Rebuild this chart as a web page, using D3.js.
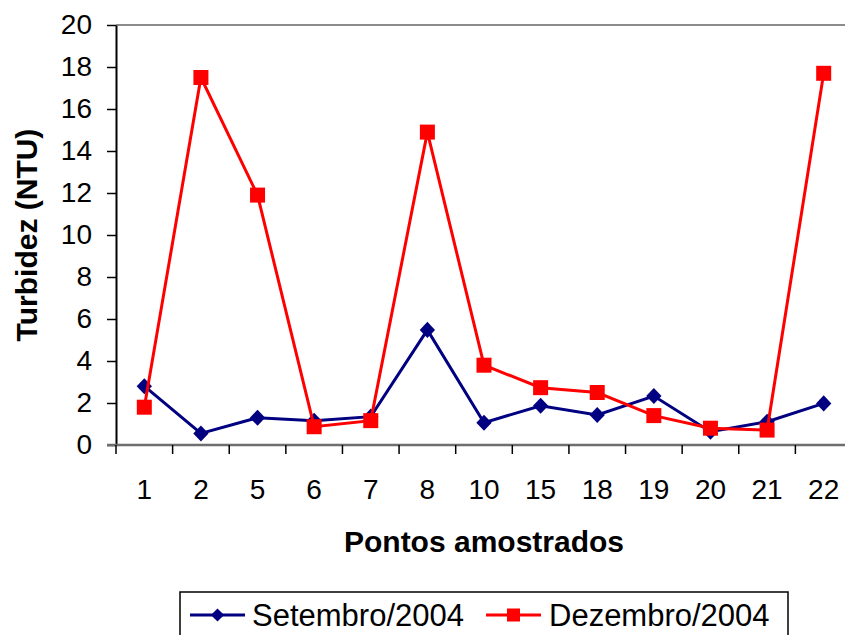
<!DOCTYPE html>
<html>
<head>
<meta charset="utf-8">
<script src="https://cdn.jsdelivr.net/npm/d3@7"></script>
<style>
  body { margin: 0; background: #fff; }
  svg { display: block; font-family: "Liberation Sans", Arial, sans-serif; }
</style>
</head>
<body>
<div id="chart"></div>
<script>
// sampling points (x categories)
var pontos = ["1", "2", "5", "6", "7", "8", "10", "15", "18", "19", "20", "21", "22"];
// turbidity values
var setembro = [2.8, 0.55, 1.3, 1.15, 1.35, 5.48, 1.06, 1.87, 1.43, 2.33, 0.63, 1.11, 1.98];
var dezembro = [1.8, 17.5, 11.9, 0.87, 1.16, 14.9, 3.8, 2.73, 2.5, 1.4, 0.8, 0.71, 17.7];
var yTicks = [0, 2, 4, 6, 8, 10, 12, 14, 16, 18, 20];
var seriesNames = ["Setembro/2004", "Dezembro/2004"];

var width = 845, height = 635;
// plot area runs a bit past the right edge, like the original
var margin = {top: 25, left: 116, right: -7, bottom: 190};

var svg = d3.select("#chart")
  .append("svg")
    .attr("width", width)
    .attr("height", height);

var x = d3.scaleBand()
  .domain(pontos)
  .range([margin.left, width - margin.right])
  .padding(0);

var y = d3.scaleLinear()
  .domain([0, 20])
  .range([height - margin.bottom, margin.top]);

// top border (grey)
svg.append("line")
  .attr("x1", margin.left).attr("x2", width)
  .attr("y1", y(20)).attr("y2", y(20))
  .attr("stroke", "#8c8c8c")
  .attr("stroke-width", 2);

// Y axis
var yAxis = svg.append("g")
  .attr("transform", "translate(" + margin.left + ",0)")
  .call(d3.axisLeft(y).tickValues(yTicks).tickSize(9).tickPadding(15).tickSizeOuter(0));
yAxis.select(".domain").attr("stroke", "#000").attr("stroke-width", 2);
yAxis.selectAll(".tick line").attr("stroke", "#000").attr("stroke-width", 1.5);
yAxis.selectAll("text")
  .attr("font-size", 28)
  .attr("fill", "#000")
  .attr("font-family", "Liberation Sans, Arial, sans-serif");

// X axis: ticks on band edges, labels in band centres
var xAxis = svg.append("g")
  .attr("transform", "translate(0," + y(0) + ")");
xAxis.append("line")
  .attr("x1", margin.left - 9).attr("x2", width)
  .attr("y1", 0).attr("y2", 0)
  .attr("stroke", "#6e6e6e")
  .attr("stroke-width", 2.5);
xAxis.selectAll(".xtick")
  .data(pontos)
  .enter()
  .append("line")
    .attr("class", "xtick")
    .attr("x1", function(d) { return x(d); })
    .attr("x2", function(d) { return x(d); })
    .attr("y1", 0).attr("y2", 9)
    .attr("stroke", "#000")
    .attr("stroke-width", 1.5);
xAxis.selectAll(".xlabel")
  .data(pontos)
  .enter()
  .append("text")
    .attr("class", "xlabel")
    .attr("x", function(d) { return x(d) + x.bandwidth() / 2; })
    .attr("y", 54)
    .attr("text-anchor", "middle")
    .attr("font-size", 28)
    .text(function(d) { return d; });

// axis titles
svg.append("text")
  .attr("x", (margin.left + width - margin.right) / 2)
  .attr("y", 552)
  .attr("text-anchor", "middle")
  .attr("font-size", 30)
  .attr("font-weight", "bold")
  .text("Pontos amostrados");

svg.append("text")
  .attr("transform", "translate(37," + ((y(0) + y(20)) / 2 + 0) + ") rotate(-90)")
  .attr("text-anchor", "middle")
  .attr("font-size", 30)
  .attr("font-weight", "bold")
  .text("Turbidez (NTU)");

var cx = function(d, i) { return x(pontos[i]) + x.bandwidth() / 2; };
var line = d3.line()
  .x(function(d, i) { return cx(d, i); })
  .y(function(d) { return y(d); });

var diamond = d3.symbol().type(d3.symbolDiamond2).size(150);

// Setembro series (navy, diamonds)
svg.append("path")
  .datum(setembro)
  .attr("fill", "none")
  .attr("stroke", "#000080")
  .attr("stroke-width", 3)
  .attr("d", line);
svg.selectAll(".setembro")
  .data(setembro)
  .enter()
  .append("path")
    .attr("class", "setembro")
    .attr("transform", function(d, i) { return "translate(" + cx(d, i) + "," + y(d) + ") scale(1,1.05)"; })
    .attr("d", diamond)
    .attr("fill", "#000080");

// Dezembro series (red, squares)
svg.append("path")
  .datum(dezembro)
  .attr("fill", "none")
  .attr("stroke", "#ff0000")
  .attr("stroke-width", 3)
  .attr("d", line);
svg.selectAll(".dezembro")
  .data(dezembro)
  .enter()
  .append("rect")
    .attr("class", "dezembro")
    .attr("x", function(d, i) { return cx(d, i) - 7.5; })
    .attr("y", function(d) { return y(d) - 7.5; })
    .attr("width", 15)
    .attr("height", 15)
    .attr("fill", "#ff0000");

// legend
var legend = svg.append("g");
legend.append("rect")
  .attr("x", 180).attr("y", 592)
  .attr("width", 608).attr("height", 60)
  .attr("fill", "#fff")
  .attr("stroke", "#000")
  .attr("stroke-width", 1.5);

var legendItems = [
  {name: seriesNames[0], color: "#000080", x: 190, tx: 252, shape: "diamond"},
  {name: seriesNames[1], color: "#ff0000", x: 486, tx: 549, shape: "square"}
];
legendItems.forEach(function(it) {
  legend.append("line")
    .attr("x1", it.x).attr("x2", it.x + 55)
    .attr("y1", 615).attr("y2", 615)
    .attr("stroke", it.color)
    .attr("stroke-width", 3);
  if (it.shape === "diamond") {
    legend.append("path")
      .attr("transform", "translate(" + (it.x + 27.5) + ",615)")
      .attr("d", d3.symbol().type(d3.symbolDiamond2).size(110))
      .attr("fill", it.color);
  } else {
    legend.append("rect")
      .attr("x", it.x + 21).attr("y", 608.5)
      .attr("width", 13).attr("height", 13)
      .attr("fill", it.color);
  }
  legend.append("text")
    .attr("x", it.tx)
    .attr("y", 626)
    .attr("font-size", 31)
    .text(it.name);
});
</script>
</body>
</html>
